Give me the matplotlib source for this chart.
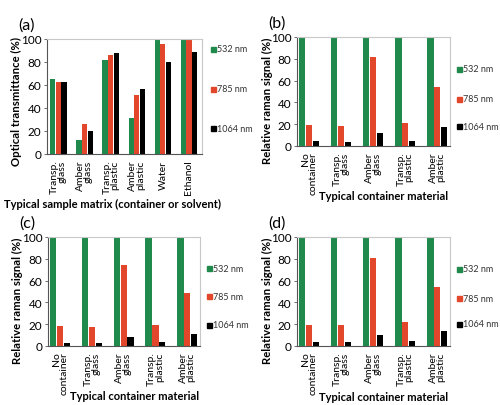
import numpy as np
import matplotlib
matplotlib.use('Agg')
import matplotlib.pyplot as plt
from matplotlib.patches import Rectangle

plt.rcParams['font.family'] = ['Lato', 'DejaVu Sans']

# wavelengths and colours
lasers = ['532 nm', '785 nm', '1064 nm']
colors = ['#1f8a4c', '#e2472c', '#000000']

# (a) optical transmittance
cats_a = ['Transp.\nglass', 'Amber\nglass', 'Transp.\nplastic', 'Amber\nplastic', 'Water', 'Ethanol']
a_532 = [65, 12.5, 82, 31, 100, 100]
a_785 = [63, 26, 86, 51, 96, 100]
a_1064 = [63, 20, 88, 56.5, 80, 89]

# (b)-(d) relative raman signal
cats_c = ['No\ncontainer', 'Transp.\nglass', 'Amber\nglass', 'Transp.\nplastic', 'Amber\nplastic']
b_532 = [100, 100, 100, 100, 100]
b_785 = [19, 18, 81.5, 21, 54]
b_1064 = [5, 4, 12, 5, 17.5]
c_532 = [100, 100, 100, 100, 100]
c_785 = [18, 17, 74.5, 19.5, 49]
c_1064 = [3, 3, 8, 3.7, 11]
d_532 = [100, 100, 100, 100, 100]
d_785 = [19.5, 19, 81, 22, 54]
d_1064 = [4, 4, 10, 5, 14]

W, H = 500, 406
fig = plt.figure(figsize=(W / 100, H / 100), dpi=100)

def px(x, y):
    # pixel position (from top-left) -> figure fraction
    return x / W, 1 - y / H

def add_ax(l, r, t, b):
    return fig.add_axes([l / W, 1 - b / H, (r - l) / W, (b - t) / H])

def panel(ax, cats, series, ylabel, xlabel, tag, xlim, ylab_pos, xlab_pos, leg_x, leg_y):
    x = np.arange(len(cats))
    w = 0.2
    for i, (vals, c) in enumerate(zip(series, colors)):
        ax.bar(x + (i - 1) * 0.215, vals, width=w, color=c)
    ax.set_xlim(*xlim)
    ax.set_ylim(0, 100)
    ax.set_yticks([0, 20, 40, 60, 80, 100])
    ax.set_xticks(x)
    ax.set_xticklabels(cats, rotation=90, fontsize=7.5, multialignment='right',
                       linespacing=0.8)
    ax.tick_params(axis='y', labelsize=8.5, length=2, width=0.6, pad=2, color='#555555')
    ax.tick_params(axis='x', length=0, pad=4)
    for s in ['left', 'bottom']:
        ax.spines[s].set_color('#555555')
        ax.spines[s].set_linewidth(0.8)
    for s in ['top', 'right']:
        ax.spines[s].set_color('#c8c8c8')
        ax.spines[s].set_linewidth(0.8)
    # axis titles placed where the reference has them
    fig.text(*px(*ylab_pos), ylabel, fontsize=8.2, fontweight='bold', rotation=90,
             ha='center', va='center')
    fig.text(*px(*xlab_pos), xlabel, fontsize=8, fontweight='bold',
             ha='center', va='center')
    # panel tag, placed left of the axes
    bb = ax.get_position()
    fig.text(bb.x0 - 29 / W, bb.y1 + 7 / H, tag, fontsize=11.5, ha='left', va='bottom')
    # legend entries spread out on the right
    for lab, c, yp in zip(lasers, colors, leg_y):
        fig.add_artist(Rectangle(px(leg_x, yp + 2.5), 5 / W, 5 / H,
                                 transform=fig.transFigure, color=c))
        fig.text(*px(leg_x + 6, yp), lab, fontsize=6.5, ha='left', va='center',
                 color='#333333')

ax_a = add_ax(47, 202, 40, 155)
panel(ax_a, cats_a, [a_532, a_785, a_1064], 'Optical transmittance (%)',
      'Typical sample matrix (container or solvent)', '(a)', (-0.44, 5.5),
      (16, 101), (112, 204), 211, [50, 90, 129])

ax_b = add_ax(297, 450, 38, 147)
panel(ax_b, cats_c, [b_532, b_785, b_1064], 'Relative raman signal (%)',
      'Typical container material', '(b)', (-0.38, 4.4),
      (267, 101), (384, 197), 457, [70, 100, 127])

ax_c = add_ax(48, 200, 238, 347)
panel(ax_c, cats_c, [c_532, c_785, c_1064], 'Relative raman signal (%)',
      'Typical container material', '(c)', (-0.38, 4.4),
      (17, 301), (135, 397), 207, [269, 297, 326])

ax_d = add_ax(297, 450, 238, 347)
panel(ax_d, cats_c, [d_532, d_785, d_1064], 'Relative raman signal (%)',
      'Typical container material', '(d)', (-0.38, 4.4),
      (267, 301), (384, 398), 457, [270, 299, 325])

fig.savefig('out.png', dpi=100, facecolor='white')
